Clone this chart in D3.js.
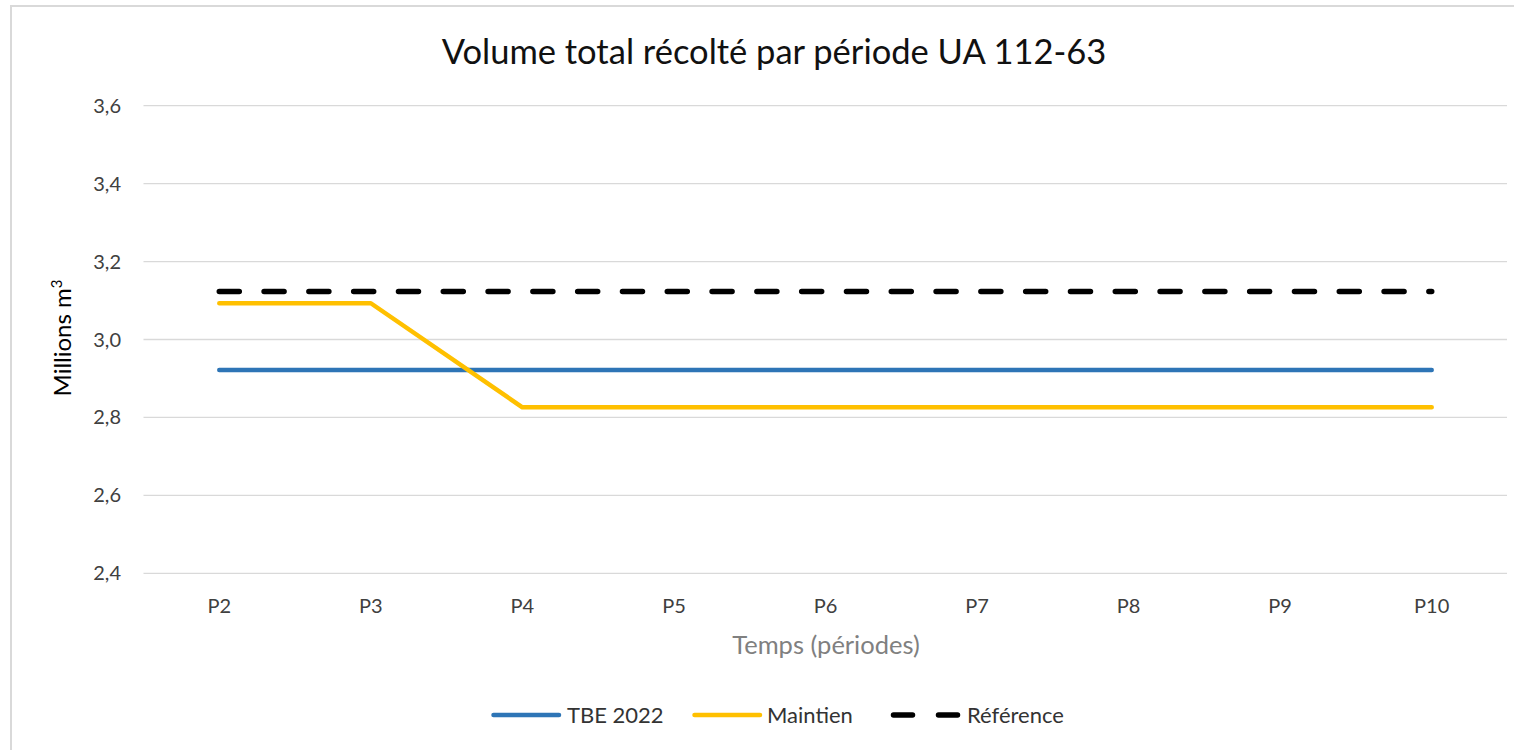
<!DOCTYPE html>
<html>
<head>
<meta charset="utf-8">
<script src="https://cdn.jsdelivr.net/npm/d3@7.9.0/dist/d3.min.js"></script>
<style>
  body { margin: 0; background: #fff; }
  svg { display: block; font-family: Lato, "Open Sans", sans-serif; }
</style>
</head>
<body>
<svg id="chart" width="1514" height="750"></svg>
<script>
// data
const periods = ['P2', 'P3', 'P4', 'P5', 'P6', 'P7', 'P8', 'P9', 'P10'];
const tbe2022 = [2.922, 2.922, 2.922, 2.922, 2.922, 2.922, 2.922, 2.922, 2.922];
const maintien = [3.093, 3.093, 2.826, 2.826, 2.826, 2.826, 2.826, 2.826, 2.826];
const reference = [3.123, 3.123, 3.123, 3.123, 3.123, 3.123, 3.123, 3.123, 3.123];
const yTicks = [2.4, 2.6, 2.8, 3.0, 3.2, 3.4, 3.6];

const series = [
  { name: 'TBE 2022', values: tbe2022, color: '#2E75B6', width: 4.5, dash: null },
  { name: 'Maintien', values: maintien, color: '#FFC000', width: 4.5, dash: null },
  { name: 'Référence', values: reference, color: '#000000', width: 5.5, dash: '20,24.8' }
];

const svg = d3.select('#chart');

// chart border (runs off the right and bottom edges)
svg.append('rect')
  .attr('x', 11).attr('y', 6)
  .attr('width', 1520).attr('height', 760)
  .attr('fill', 'none')
  .attr('stroke', '#d9d9d9')
  .attr('stroke-width', 2);

const x = d3.scalePoint().domain(periods).range([143.5, 1507.5]).padding(0.5);
const y = d3.scaleLinear().domain([2.4, 3.6]).range([573.3, 105.7]);

// gridlines
svg.append('g')
  .selectAll('line')
  .data(yTicks)
  .join('line')
  .attr('x1', 143.5).attr('x2', 1507)
  .attr('y1', d => y(d)).attr('y2', d => y(d))
  .attr('stroke', '#d9d9d9')
  .attr('stroke-width', 1.3);

const fmt = d => d3.format('.1f')(d).replace('.', ',');

// y tick labels
svg.append('g')
  .selectAll('text')
  .data(yTicks)
  .join('text')
  .attr('x', 121)
  .attr('y', d => y(d))
  .attr('dy', '0.35em')
  .attr('text-anchor', 'end')
  .attr('font-size', 20)
  .attr('fill', '#404040')
  .text(fmt);

// x tick labels
svg.append('g')
  .selectAll('text')
  .data(periods)
  .join('text')
  .attr('x', d => x(d))
  .attr('y', 606)
  .attr('dy', '0.35em')
  .attr('text-anchor', 'middle')
  .attr('font-size', 20)
  .attr('fill', '#404040')
  .text(d => d);

// lines
const line = d3.line()
  .x((d, i) => x(periods[i]))
  .y(d => y(d));

svg.append('g')
  .selectAll('path')
  .data(series)
  .join('path')
  .attr('d', d => line(d.values))
  .attr('fill', 'none')
  .attr('stroke', d => d.color)
  .attr('stroke-width', d => d.width)
  .attr('stroke-linecap', 'round')
  .attr('stroke-linejoin', 'round')
  .attr('stroke-dasharray', d => d.dash);

// title
svg.append('text')
  .attr('x', 774).attr('y', 52)
  .attr('dy', '0.35em')
  .attr('text-anchor', 'middle')
  .attr('font-size', 34.5)
  .attr('fill', '#111')
  .text('Volume total récolté par période UA 112-63');

// x axis title
svg.append('text')
  .attr('x', 826).attr('y', 645)
  .attr('dy', '0.35em')
  .attr('text-anchor', 'middle')
  .attr('font-size', 25.5)
  .attr('fill', '#808080')
  .text('Temps (périodes)');

// y axis title
const yTitle = svg.append('text')
  .attr('transform', 'translate(63,338) rotate(-90)')
  .attr('dy', '0.35em')
  .attr('text-anchor', 'middle')
  .attr('font-size', 24)
  .attr('fill', '#000');
yTitle.append('tspan').text('Millions m');
yTitle.append('tspan').attr('font-size', 15).attr('dy', '-0.6em').text('3');

// legend
const legendItems = [
  { s: series[0], lx: 491, tx: 567 },
  { s: series[1], lx: 692, tx: 767 },
  { s: series[2], lx: 891, tx: 967 }
];
const legend = svg.append('g');
legendItems.forEach(item => {
  const g = legend.append('g');
  g.append('line')
    .attr('x1', item.lx + 2.5).attr('x2', item.lx + 68)
    .attr('y1', 715).attr('y2', 715)
    .attr('stroke', item.s.color)
    .attr('stroke-width', item.s.width)
    .attr('stroke-linecap', 'round')
    .attr('stroke-dasharray', item.s.dash ? '19,26' : null);
  g.append('text')
    .attr('x', item.tx).attr('y', 715)
    .attr('dy', '0.35em')
    .attr('font-size', 22)
    .attr('fill', '#333')
    .text(item.s.name);
});
</script>
</body>
</html>
